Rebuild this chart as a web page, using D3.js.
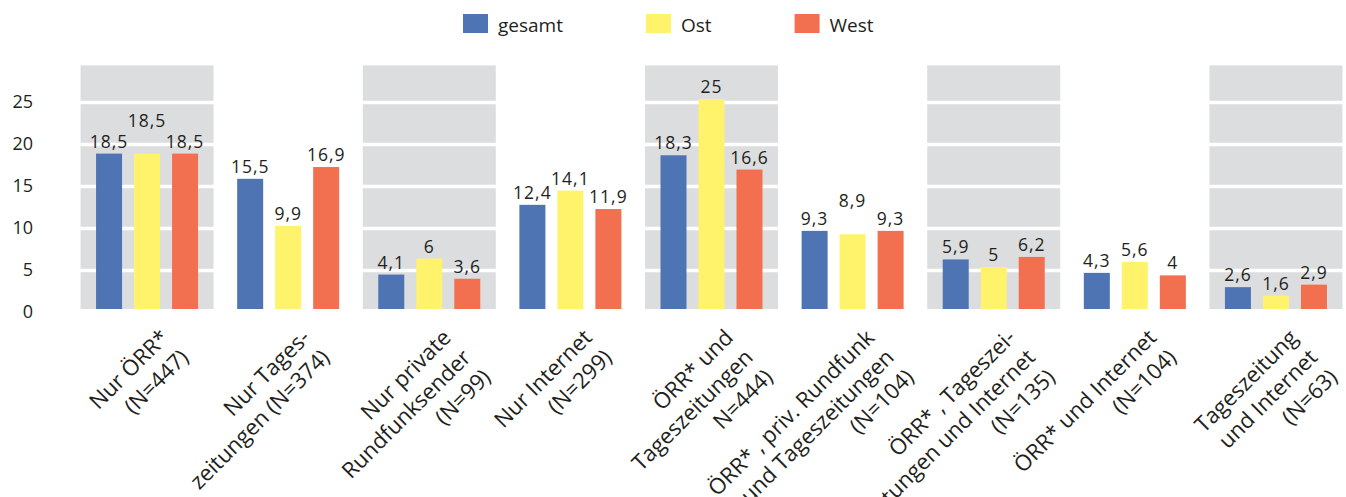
<!DOCTYPE html>
<html><head><meta charset="utf-8">
<script src="https://cdn.jsdelivr.net/npm/d3@7"></script>
<style>
body{margin:0;background:#fff}
text{font-family:"Open Sans",sans-serif;fill:#231f20}
</style>
</head><body>
<svg id="c" width="1346" height="497"></svg>
<script>
const categories = ["Nur ÖRR*","Nur Tageszeitungen","Nur private Rundfunksender","Nur Internet","ÖRR* und Tageszeitungen","ÖRR*, priv. Rundfunk und Tageszeitungen","ÖRR*, Tageszeitungen und Internet","ÖRR* und Internet","Tageszeitung und Internet"];
const categoryLines = [
  ["Nur ÖRR*","(N=447)"],
  ["Nur Tages-","zeitungen (N=374)"],
  ["Nur private","Rundfunksender","(N=99)"],
  ["Nur Internet","(N=299)"],
  ["ÖRR* und","Tageszeitungen","N=444)"],
  ["ÖRR* , priv. Rundfunk","und Tageszeitungen","(N=104)"],
  ["ÖRR* , Tageszei-","tungen und Internet","(N=135)"],
  ["ÖRR* und Internet","(N=104)"],
  ["Tageszeitung","und Internet","(N=63)"]
];
const seriesNames = ["gesamt","Ost","West"];
const gesamt = [18.5,15.5,4.1,12.4,18.3,9.3,5.9,4.3,2.6];
const ost    = [18.5,9.9,6,14.1,25,8.9,5,5.6,1.6];
const west   = [18.5,16.9,3.6,11.9,16.6,9.3,6.2,4,2.9];
const yTicks = [0,5,10,15,20,25];
const gridTicks = [5,10,15,20,25];
const bandMax = 29;
const colors = ["#4e74b4","#fff36b","#f26f50"];

const seriesValues = [gesamt, ost, west];
const svg = d3.select("#c");

const x0 = d3.scaleBand().domain(categories).range([76.5, 1346.5]);
const step = x0.bandwidth();
const x1 = d3.scaleBand().domain(seriesNames)
  .range([(step-114)/2, (step+114)/2]).paddingInner(12/38).paddingOuter(6/38);
const y = d3.scaleLinear().domain([0,25]).range([309,99]);
const color = d3.scaleOrdinal().domain(seriesNames).range(colors);

// grey background bands (every other category)
const bandW = 133;
svg.append("g").selectAll("rect")
  .data(categories.filter((c,i)=>i%2===0))
  .join("rect")
  .attr("x", c=>x0(c)+(step-bandW)/2)
  .attr("width", bandW)
  .attr("y", y(bandMax))
  .attr("height", y(0)-y(bandMax))
  .attr("fill","#dcdddf");

// white gridlines
const gridG = svg.append("g").attr("transform","translate(76.5,3)")
  .call(d3.axisLeft(y).tickValues(gridTicks).tickSize(-1270).tickFormat(""));
gridG.select(".domain").remove();
gridG.selectAll(".tick line").attr("stroke","#fff").attr("stroke-width",3.6);

// y axis labels
const yAx = svg.append("g").attr("transform","translate(33,3)")
  .call(d3.axisLeft(y).tickValues(yTicks).tickSize(0).tickPadding(0).tickFormat(d=>String(d)));
yAx.select(".domain").remove();
yAx.selectAll("text").attr("font-size",18).attr("font-family","'Open Sans',sans-serif").attr("fill","#231f20");

// bars
const rows = categories.map((c,i)=>({c, i, vals: seriesNames.map((s,k)=>({s, v: seriesValues[k][i]}))}));
const groups = svg.append("g").selectAll("g").data(rows).join("g")
  .attr("transform", d=>`translate(${x0(d.c)},0)`);
groups.selectAll("rect").data(d=>d.vals).join("rect")
  .attr("x", d=>x1(d.s)).attr("width", x1.bandwidth())
  .attr("y", d=>y(d.v)).attr("height", d=>y(0)-y(d.v))
  .attr("fill", d=>color(d.s));

// value labels
const fmt = v => String(v).replace(".", ",");
groups.each(function(d){
  const g = d3.select(this);
  d.vals.forEach((e,k)=>{
    let raise = 0;
    if (k===1 && Math.abs(e.v-d.vals[0].v)<0.5 && Math.abs(e.v-d.vals[2].v)<0.5) raise = 21;
    g.append("text")
      .attr("x", x1(e.s)+x1.bandwidth()/2)
      .attr("y", y(e.v)-6-raise)
      .attr("text-anchor","middle")
      .attr("font-size",17.5)
      .attr("letter-spacing","1px")
      .text(fmt(e.v));
  });
});

// category labels
categories.forEach((c,i)=>{
  const t = svg.append("text")
    .attr("transform", `translate(${x0(c)+step/2+23},339) rotate(-45)`)
    .attr("text-anchor","end")
    .attr("font-size",22);
  categoryLines[i].forEach((line,j)=>{
    t.append("tspan").attr("x",0).attr("y", j*28).text(line);
  });
});

// legend
const leg = svg.append("g");
let lx = 463;
seriesNames.forEach((s)=>{
  leg.append("rect").attr("x",lx).attr("y",14).attr("width",25).attr("height",19).attr("fill",color(s));
  const t = leg.append("text").attr("x",lx+35).attr("y",32).attr("font-size",19).text(s);
  lx = lx + 35 + t.node().getComputedTextLength() + 83;
});
</script>
</body></html>
